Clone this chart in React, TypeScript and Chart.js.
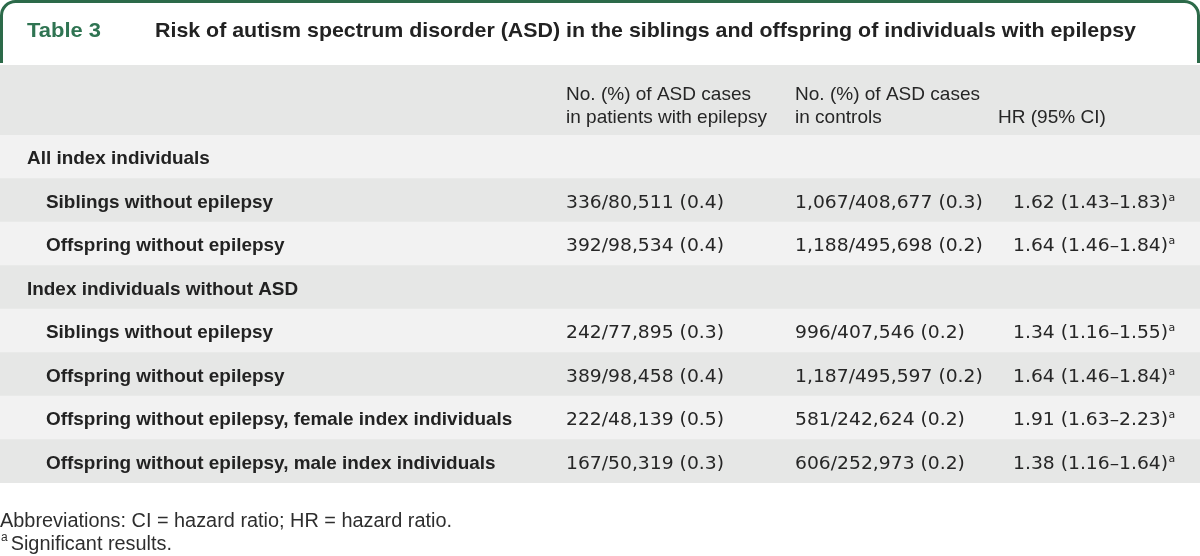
import React, { useEffect, useRef } from "react";
import { Chart, registerables } from "chart.js";

Chart.register(...registerables);

const tableNumber = "Table 3";
const tableTitle =
  "Risk of autism spectrum disorder (ASD) in the siblings and offspring of individuals with epilepsy";
const columnHeaders = [
  ["No. (%) of ASD cases", "in patients with epilepsy"],
  ["No. (%) of ASD cases", "in controls"],
  ["HR (95% CI)"],
];
const rowLabels = [
  "All index individuals",
  "Siblings without epilepsy",
  "Offspring without epilepsy",
  "Index individuals without ASD",
  "Siblings without epilepsy",
  "Offspring without epilepsy",
  "Offspring without epilepsy, female index individuals",
  "Offspring without epilepsy, male index individuals",
];
const rowLevels = [0, 1, 1, 0, 1, 1, 1, 1];
const epilepsyCases = [
  "",
  "336/80,511 (0.4)",
  "392/98,534 (0.4)",
  "",
  "242/77,895 (0.3)",
  "389/98,458 (0.4)",
  "222/48,139 (0.5)",
  "167/50,319 (0.3)",
];
const controlCases = [
  "",
  "1,067/408,677 (0.3)",
  "1,188/495,698 (0.2)",
  "",
  "996/407,546 (0.2)",
  "1,187/495,597 (0.2)",
  "581/242,624 (0.2)",
  "606/252,973 (0.2)",
];
const hazardRatios = [
  "",
  "1.62 (1.43–1.83)",
  "1.64 (1.46–1.84)",
  "",
  "1.34 (1.16–1.55)",
  "1.64 (1.46–1.84)",
  "1.91 (1.63–2.23)",
  "1.38 (1.16–1.64)",
];
const significantMarks = ["", "a", "a", "", "a", "a", "a", "a"];
const footnoteLines = [
  "Abbreviations: CI = hazard ratio; HR = hazard ratio.",
  "Significant results.",
];
const footnoteMarks = ["", "a"];

// ---- layout / style constants (not data) ----
const W = 1200;
const H = 556;
const GREEN_DARK = "#2c6a49";
const GREEN_TEXT = "#2f7452";
const GRAY_BAND = "#e6e7e6";
const ROW_LIGHT = "#f2f2f2";
const ROW_DARK = "#e6e7e6";
const TEXT = "#262626";

const FONT_TITLE = "bold 20.5px 'Liberation Sans', Arial, sans-serif";
const FONT_TABLENO = "bold 21px 'Liberation Sans', Arial, sans-serif";
const FONT_HEADER = "19px 'Liberation Sans', Arial, sans-serif";
const FONT_LABEL = "bold 19px 'Liberation Sans', Arial, sans-serif";
const FONT_DATA = "18.5px 'DejaVu Sans', sans-serif";
const FONT_SUP = "11px 'DejaVu Sans', sans-serif";
const FONT_FOOT = "20px 'Liberation Sans', Arial, sans-serif";
const FONT_FOOT_SUP = "12px 'Liberation Sans', Arial, sans-serif";

function calib(ctx: CanvasRenderingContext2D, font: string, sample: string, target: number) {
  ctx.save();
  ctx.font = font;
  const w = ctx.measureText(sample).width;
  ctx.restore();
  return w > 0 ? target / w : 1;
}

function drawText(
  ctx: CanvasRenderingContext2D,
  text: string,
  x: number,
  y: number,
  font: string,
  color: string,
  sx: number
) {
  ctx.save();
  ctx.font = font;
  ctx.fillStyle = color;
  ctx.textBaseline = "alphabetic";
  ctx.textAlign = "left";
  const w = ctx.measureText(text).width * sx;
  ctx.translate(x, y);
  ctx.scale(sx, 1);
  ctx.fillText(text, 0, 0);
  ctx.restore();
  return w;
}

const tablePlugin = {
  id: "tablePlugin",
  afterDatasetsDraw(chart: any) {
    const ctx: CanvasRenderingContext2D = chart.ctx;
    const xs = chart.scales.x;
    const ys = chart.scales.y;

    const sTitle = calib(ctx, FONT_TITLE, tableTitle, 981);
    const sNo = calib(ctx, FONT_TABLENO, tableNumber, 74);
    const sHead = calib(ctx, FONT_HEADER, columnHeaders[0][0], 185);
    const sLabel = calib(ctx, FONT_LABEL, "Siblings without epilepsy", 227);
    const sData = calib(ctx, FONT_DATA, "336/80,511 (0.4)", 158);
    const sFoot = calib(ctx, FONT_FOOT, footnoteLines[0], 452);

    // frame
    ctx.save();
    ctx.strokeStyle = GREEN_DARK;
    ctx.lineWidth = 3;
    const r = 14;
    ctx.beginPath();
    ctx.moveTo(1.5, 63);
    ctx.lineTo(1.5, 1.5 + r);
    ctx.arcTo(1.5, 1.5, 1.5 + r, 1.5, r);
    ctx.lineTo(W - 1.5 - r, 1.5);
    ctx.arcTo(W - 1.5, 1.5, W - 1.5, 1.5 + r, r);
    ctx.lineTo(W - 1.5, 63);
    ctx.stroke();
    ctx.restore();

    // header band
    ctx.save();
    ctx.fillStyle = GRAY_BAND;
    ctx.fillRect(0, 65, W, ys.top - 65);
    ctx.restore();

    drawText(ctx, tableNumber, 27, 36.5, FONT_TABLENO, GREEN_TEXT, sNo);
    drawText(ctx, tableTitle, 155, 36.5, FONT_TITLE, "#222222", sTitle);

    const colX = [xs.getPixelForValue(566), xs.getPixelForValue(795), xs.getPixelForValue(1013)];
    const headX = [colX[0], colX[1], xs.getPixelForValue(998)];
    columnHeaders.forEach((lines, c) => {
      if (lines.length === 2) {
        drawText(ctx, lines[0], headX[c], 100, FONT_HEADER, TEXT, sHead);
        drawText(ctx, lines[1], headX[c], 123, FONT_HEADER, TEXT, sHead);
      } else {
        drawText(ctx, lines[0], headX[c], 123, FONT_HEADER, TEXT, sHead);
      }
    });

    rowLabels.forEach((label, i) => {
      const cy = ys.getPixelForValue(i);
      const base = cy + 7.5;
      const lx = rowLevels[i] === 0 ? 27 : 46;
      drawText(ctx, label, lx, base, FONT_LABEL, "#222222", sLabel);
      if (epilepsyCases[i]) drawText(ctx, epilepsyCases[i], colX[0], base, FONT_DATA, TEXT, sData);
      if (controlCases[i]) drawText(ctx, controlCases[i], colX[1], base, FONT_DATA, TEXT, sData);
      if (hazardRatios[i]) {
        const w = drawText(ctx, hazardRatios[i], colX[2], base, FONT_DATA, TEXT, sData);
        if (significantMarks[i]) {
          drawText(ctx, significantMarks[i], colX[2] + w + 0.5, base - 7, FONT_SUP, TEXT, 1);
        }
      }
    });

    // footnotes
    drawText(ctx, footnoteLines[0], 0, 527, FONT_FOOT, "#2e2e2e", sFoot);
    const mw = drawText(ctx, footnoteMarks[1], 1, 541, FONT_FOOT_SUP, "#2e2e2e", 1);
    drawText(ctx, footnoteLines[1], 1 + mw + 3, 550, FONT_FOOT, "#2e2e2e", sFoot);
  },
};

export default function App() {
  const ref = useRef<HTMLCanvasElement | null>(null);
  useEffect(() => {
    document.body.style.margin = "0";
    const canvas = ref.current;
    if (!canvas) return;
    const chart = new Chart(canvas, {
      type: "bar",
      data: {
        labels: rowLabels.map((l, i) => `${i}:${l}`),
        datasets: [
          {
            data: rowLabels.map(() => [0, 1200]) as any,
            backgroundColor: rowLabels.map((_, i) => (i % 2 === 0 ? ROW_LIGHT : ROW_DARK)),
            borderWidth: 0,
            barPercentage: 1,
            categoryPercentage: 1,
          },
        ],
      },
      options: {
        indexAxis: "y",
        responsive: false,
        animation: false,
        events: [],
        layout: { padding: { top: 135, bottom: H - 483, left: 0, right: 0 } },
        scales: {
          x: { type: "linear", min: 0, max: 1200, display: false },
          y: { type: "category", display: false, offset: true },
        },
        plugins: {
          legend: { display: false },
          tooltip: { enabled: false },
          title: { display: false },
        },
      },
      plugins: [tablePlugin],
    });
    return () => chart.destroy();
  }, []);
  return (
    <div style={{ position: "absolute", left: 0, top: 0, width: W, height: H, background: "#ffffff" }}>
      <canvas ref={ref} width={W} height={H} style={{ display: "block", width: W, height: H }} />
    </div>
  );
}
